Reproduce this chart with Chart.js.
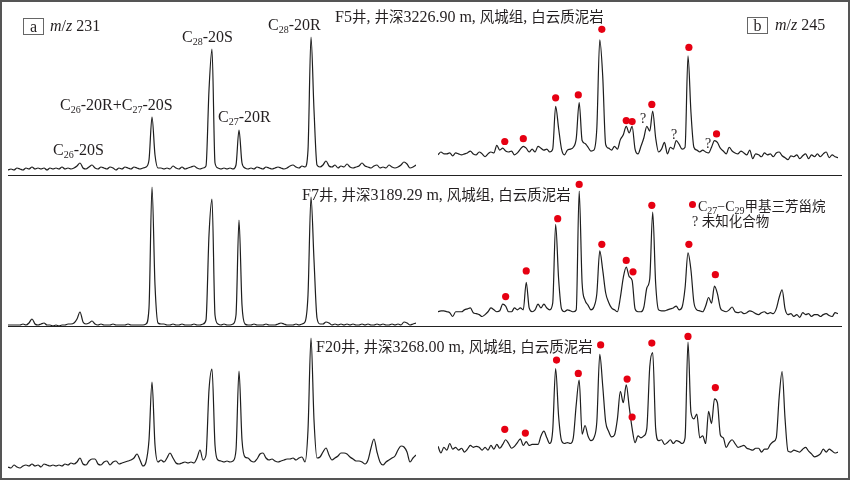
<!DOCTYPE html>
<html lang="zh">
<head>
<meta charset="UTF-8">
<title>m/z 231 与 m/z 245 质量色谱图</title>
<style>
  body { margin: 0; background: #fff; }
  #fig { position: relative; width: 850px; height: 480px; overflow: hidden;
         font-family: "Liberation Serif", "Noto Sans CJK SC", serif; color: #231f20; }
  #frame { position: absolute; left: 0; top: 0; width: 850px; height: 480px;
           box-sizing: border-box; border: 2px solid #555; }
  canvas { position: absolute; }
  .sep { position: absolute; left: 8px; width: 834px; height: 0; border-top: 1.5px solid #222; }
  .t { position: absolute; white-space: nowrap; font-size: 16px; line-height: 16px; }
  .t sub { font-size: 10px; line-height: 0; vertical-align: -3px; }
  .zh { font-size: 14.5px; }
  .box { position: absolute; box-sizing: border-box; border: 1px solid #666;
         font-size: 16px; line-height: 15px; text-align: center; }
  .q { position: absolute; font-size: 14px; line-height: 14px; }
  .leg { font-size: 14px; line-height: 14px; }
  .leg .zh { font-size: 13.5px; }
  .dot { position: absolute; width: 7px; height: 7px; border-radius: 50%; background: #e60012; }
</style>
</head>
<body>
<div id="fig">
  <canvas id="cA1" width="408" height="163" style="left:8px;top:12px"></canvas>
  <canvas id="cB1" width="408" height="163" style="left:434px;top:12px"></canvas>
  <canvas id="cA2" width="408" height="160" style="left:8px;top:170px"></canvas>
  <canvas id="cB2" width="408" height="160" style="left:434px;top:170px"></canvas>
  <canvas id="cA3" width="408" height="153" style="left:8px;top:322px"></canvas>
  <canvas id="cB3" width="408" height="153" style="left:434px;top:322px"></canvas>

  <div class="sep" style="top:175px"></div>
  <div class="sep" style="top:326px"></div>

  <!-- 面板标注 -->
  <div class="box" style="left:23px;top:18px;width:21px;height:17px">a</div>
  <div class="t" style="left:50px;top:18px"><i>m</i>/<i>z</i> 231</div>
  <div class="box" style="left:747px;top:17px;width:21px;height:17px">b</div>
  <div class="t" style="left:775px;top:17px"><i>m</i>/<i>z</i> 245</div>

  <!-- 井号 -->
  <div class="t" style="left:335px;top:9px">F5<span class="zh">井</span>, <span class="zh">井深</span>3226.90 m, <span class="zh">风城组</span>, <span class="zh">白云质泥岩</span></div>
  <div class="t" style="left:302px;top:187px">F7<span class="zh">井</span>, <span class="zh">井深</span>3189.29 m, <span class="zh">风城组</span>, <span class="zh">白云质泥岩</span></div>
  <div class="t" style="left:316px;top:339px">F20<span class="zh">井</span>, <span class="zh">井深</span>3268.00 m, <span class="zh">风城组</span>, <span class="zh">白云质泥岩</span></div>

  <!-- 峰名 -->
  <div class="t" style="left:53px;top:142px">C<sub>26</sub>-20S</div>
  <div class="t" style="left:60px;top:97px">C<sub>26</sub>-20R+C<sub>27</sub>-20S</div>
  <div class="t" style="left:182px;top:29px">C<sub>28</sub>-20S</div>
  <div class="t" style="left:218px;top:109px">C<sub>27</sub>-20R</div>
  <div class="t" style="left:268px;top:17px">C<sub>28</sub>-20R</div>

  <!-- 未知化合物 -->
  <div class="q" style="left:640px;top:112px">?</div>
  <div class="q" style="left:671px;top:128px">?</div>
  <div class="q" style="left:705px;top:137px">?</div>

  <!-- 图例 -->
  <div class="dot" style="left:689px;top:201px"></div>
  <div class="t leg" style="left:698px;top:200px">C<sub>27</sub>−C<sub>29</sub><span class="zh">甲基三芳甾烷</span></div>
  <div class="t leg" style="left:692px;top:215px">? <span class="zh">未知化合物</span></div>

  <div id="frame"></div>
</div>

<script src="https://cdn.jsdelivr.net/npm/chart.js"></script>
<script>
  // 横坐标为采样序号 (0..136), 纵坐标为相对丰度
  const nPts = 137;

  // a: m/z 231
  const a231_F5 = [5,6,5,7,6,5,7,6,8,6, 7,6,7,5,7,6,7,6,8,6, 7,6,7,9,12,7,6,8,10,7,
    6,8,7,6,8,7,5,7,6,8, 7,6,8,7,6,7,8,15,58,20, 7,7,6,7,6,9,7,6,8,6,
    7,8,9,7,6,7,9,85,126,12, 7,6,7,6,7,6,10,45,12,7, 6,7,6,8,7,6,8,7,6,7,
    8,7,6,7,9,10,8,7,9,8, 25,138,65,10,8,10,14,9,8,10, 7,9,8,11,8,7,8,9,12,9,
    8,7,9,10,7,8,7,10,8,7, 8,10,13,11,7,8,10];
  const a231_F7 = [5,5,5,5,5,6,5,7,11,6, 5,6,7,5,5,4,5,4,5,5, 6,6,7,11,18,8,6,7,9,6,
    5,6,5,5,5,6,5,5,5,5, 6,5,5,5,5,5,6,22,143,45, 7,6,6,5,5,6,5,5,6,5,
    5,5,6,5,5,6,10,95,131,15, 6,5,6,5,5,6,15,110,25,6, 5,5,6,5,5,5,6,5,5,5,
    6,7,6,5,5,5,6,5,6,8, 35,133,70,12,6,6,8,7,5,6, 5,6,5,6,5,6,5,5,6,5,
    6,5,5,6,5,6,5,5,6,5, 6,5,8,7,5,6,7];
  const a231_F20 = [8,7,10,8,7,9,10,9,11,9, 10,8,11,10,9,10,9,10,9,11, 10,12,11,13,17,11,10,14,16,16,
    11,10,13,14,10,13,14,11,12,13, 14,15,17,21,15,9,13,35,93,30, 13,15,13,17,22,17,12,11,12,13,
    12,13,12,17,25,15,20,85,106,30, 15,14,13,14,13,14,25,104,35,18, 17,14,13,16,21,22,17,15,16,14,
    13,14,15,16,16,17,15,17,18,13, 45,137,55,17,18,23,27,20,15,17, 19,22,22,21,18,16,14,14,13,11,
    15,27,36,23,13,10,13,15,17,19, 25,29,28,23,13,17,20];

  // b: m/z 245
  const b245_F5 = [17,20,18,18,19,16,19,18,17,18, 19,21,18,17,20,18,15,18,20,19, 27,22,24,21,20,21,17,19,23,26,
    24,20,23,20,26,24,22,23,20,23, 68,45,23,17,22,23,25,34,72,32, 29,25,21,22,45,138,100,28,24,22,
    26,23,33,38,47,40,47,23,18,26, 35,47,42,63,35,20,23,30,18,25, 23,32,28,23,25,121,62,25,22,20,
    22,20,19,25,32,30,24,21,18,25, 21,19,18,21,19,17,22,13,18,17, 15,19,17,18,15,19,20,16,14,12,
    16,15,17,13,16,18,13,17,15,18, 15,18,20,14,17,15,14];
  const b245_F7 = [15,16,16,15,14,10,15,15,15,17, 18,19,14,13,12,10,12,15,19,17, 15,16,23,21,15,15,19,17,19,17,
    46,19,15,17,23,19,23,19,17,24, 107,50,18,15,17,16,15,17,142,45, 27,22,17,20,34,79,59,35,25,19,
    17,15,30,51,62,52,48,18,15,15, 20,40,50,120,45,17,16,16,17,18, 19,21,17,20,40,77,59,25,17,16,
    15,21,30,24,42,34,19,16,15,17, 20,15,14,15,13,14,16,15,13,12, 14,15,13,14,13,18,30,38,18,12,
    13,10,12,9,14,12,13,10,12,12, 10,12,13,11,10,14,13];
  const b245_F20 = [26,19,25,22,29,23,25,22,24,20, 23,27,25,26,25,22,25,22,27,23, 28,24,28,33,29,24,26,30,34,27,
    31,27,28,28,28,37,42,35,29,43, 108,58,32,29,30,29,35,70,96,39, 48,37,32,35,52,123,90,52,42,36,
    38,55,84,72,91,68,45,30,37,35, 37,45,110,125,45,32,33,28,30,33, 29,32,31,29,35,136,62,55,60,35,
    37,29,63,50,76,72,38,35,25,30, 33,29,25,26,27,24,23,22,24,24, 20,23,23,28,31,35,78,105,55,21,
    20,22,21,20,23,25,21,18,15,16, 18,23,20,23,21,19,20];

  // C27-C29 甲基三芳甾烷 (红点) 位置与高度
  const dotPos_F5  = [22.7, 29, 40, 47.7, 55.7, 64, 66, 72.7, 85.3, 94.7];
  const dotVal_F5  = [31, 34, 77, 80, 149, 53, 52, 70, 130, 39];
  const dotPos_F7  = [23, 30, 40.7, 48, 55.7, 64, 66.3, 72.7, 85.3, 94.3];
  const dotVal_F7  = [31, 58, 113, 149, 86, 69, 57, 127, 86, 54];
  const dotPos_F20 = [22.7, 29.7, 40.3, 47.7, 55.3, 64.3, 66, 72.7, 85, 94.3];
  const dotVal_F20 = [44, 40, 117, 103, 133, 97, 57, 135, 142, 88];

  function drawTrace(id, vals, dotPos, dotVal) {
    const cv = document.getElementById(id);
    new Chart(cv, {
      type: 'line',
      data: {
        datasets: [
          {
            data: dotPos.map((x, i) => ({ x: x, y: dotVal[i] })),
            showLine: false,
            pointRadius: 3.6,
            pointBackgroundColor: '#e60012',
            pointBorderWidth: 0,
            clip: false
          },
          {
            data: vals.map((v, i) => ({ x: i, y: v })),
            borderColor: '#1e1e1e',
            borderWidth: 1.2,
            pointRadius: 0,
            cubicInterpolationMode: 'monotone',
            fill: false
          }
        ]
      },
      options: {
        responsive: false,
        animation: false,
        events: [],
        layout: { padding: 0 },
        plugins: { legend: { display: false }, tooltip: { enabled: false } },
        scales: {
          x: { type: 'linear', min: 0, max: nPts - 1, display: false },
          y: { min: 0, max: cv.height, display: false }
        }
      }
    });
  }

  drawTrace('cA1', a231_F5, [], []);
  drawTrace('cA2', a231_F7, [], []);
  drawTrace('cA3', a231_F20, [], []);
  drawTrace('cB1', b245_F5, dotPos_F5, dotVal_F5);
  drawTrace('cB2', b245_F7, dotPos_F7, dotVal_F7);
  drawTrace('cB3', b245_F20, dotPos_F20, dotVal_F20);
</script>
</body>
</html>
